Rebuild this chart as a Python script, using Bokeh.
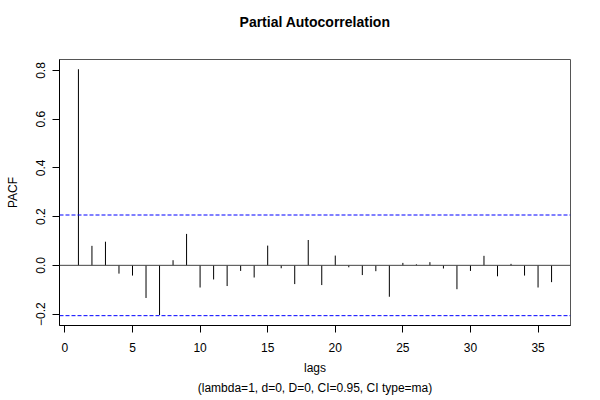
from bokeh.plotting import figure
from bokeh.models import Range1d, Span, FixedTicker, CustomJSTickFormatter, Title, ColumnDataSource
from bokeh.embed import file_html
from bokeh.resources import INLINE

# ---- data ----
lags = list(range(1, 37))
pacf = [0.805, 0.080, 0.097, -0.034, -0.042, -0.134, -0.204, 0.021, 0.129,
        -0.091, -0.058, -0.085, -0.023, -0.050, 0.081, -0.012, -0.077, 0.104,
        -0.081, 0.040, -0.008, -0.040, -0.024, -0.129, 0.010, 0.004, 0.013,
        -0.013, -0.098, -0.023, 0.039, -0.045, 0.006, -0.042, -0.091, -0.069]
ci_upper = 0.2066
ci_lower = -0.2066
x_ticks = [0, 5, 10, 15, 20, 25, 30, 35]
y_ticks = [-0.2, 0.0, 0.2, 0.4, 0.6, 0.8]
title_text = "Partial Autocorrelation"
xlab = "lags"
ylab = "PACF"
sub_text = "(lambda=1, d=0, D=0, CI=0.95, CI type=ma)"

FONT = "Liberation Sans"

p = figure(width=600, height=400, output_backend="svg", toolbar_location=None,
           title=None,
           x_range=Range1d(-0.4, 37.4), y_range=Range1d(-0.247, 0.845),
           min_border_left=59, min_border_right=30, min_border_top=59,
           min_border_bottom=75)

p.background_fill_color = "white"
p.border_fill_color = "white"
p.xgrid.visible = False
p.ygrid.visible = False
p.outline_line_color = "#555555"
p.outline_line_width = 1

# spacer next to the frame, then the main title further out
spacer = Title(text=" ", align="center", text_font=FONT, text_font_size="14px",
               standoff=10)
p.add_layout(spacer, "above")
main = Title(text=title_text, align="center", text_font=FONT, text_font_size="14px",
             text_font_style="bold", text_color="black", standoff=4)
p.add_layout(main, "above")

src = ColumnDataSource(dict(lag=lags, val=pacf, zero=[0] * len(lags)))
p.segment(x0="lag", y0="zero", x1="lag", y1="val", source=src,
          line_color="black", line_width=1)

p.add_layout(Span(location=0, dimension="width", line_color="#444444", line_width=1))
p.add_layout(Span(location=ci_upper, dimension="width", line_color="blue",
                  line_width=1, line_dash="4 2"))
p.add_layout(Span(location=ci_lower, dimension="width", line_color="blue",
                  line_width=1, line_dash="4 2"))

for ax in (p.xaxis[0], p.yaxis[0]):
    ax.axis_line_color = "black"
    ax.major_tick_line_color = "black"
    ax.major_tick_in = 0
    ax.major_tick_out = 7
    ax.minor_tick_line_color = None
    ax.major_label_text_font = FONT
    ax.major_label_text_font_size = "12px"
    ax.major_label_text_color = "black"
    ax.axis_label_text_font = FONT
    ax.axis_label_text_font_size = "12px"
    ax.axis_label_text_font_style = "normal"
    ax.axis_label_text_color = "black"

p.xaxis.ticker = FixedTicker(ticks=x_ticks)
p.xaxis.major_label_standoff = 10
p.xaxis.axis_label = xlab
p.xaxis.axis_label_standoff = 6

p.yaxis.ticker = FixedTicker(ticks=y_ticks)
p.yaxis.major_label_orientation = "vertical"
p.yaxis.major_label_standoff = 7
p.yaxis.axis_label = ylab
p.yaxis.axis_label_standoff = 14
p.yaxis.formatter = CustomJSTickFormatter(
    code="return (tick < -1e-9 ? '\u2212' : '') + Math.abs(tick).toFixed(1);")

sub = Title(text=sub_text, align="center", text_font=FONT, text_font_size="12px",
            text_font_style="normal", text_color="black", standoff=3)
p.add_layout(sub, "below")

open("out.html", "w").write(file_html(p, INLINE))
